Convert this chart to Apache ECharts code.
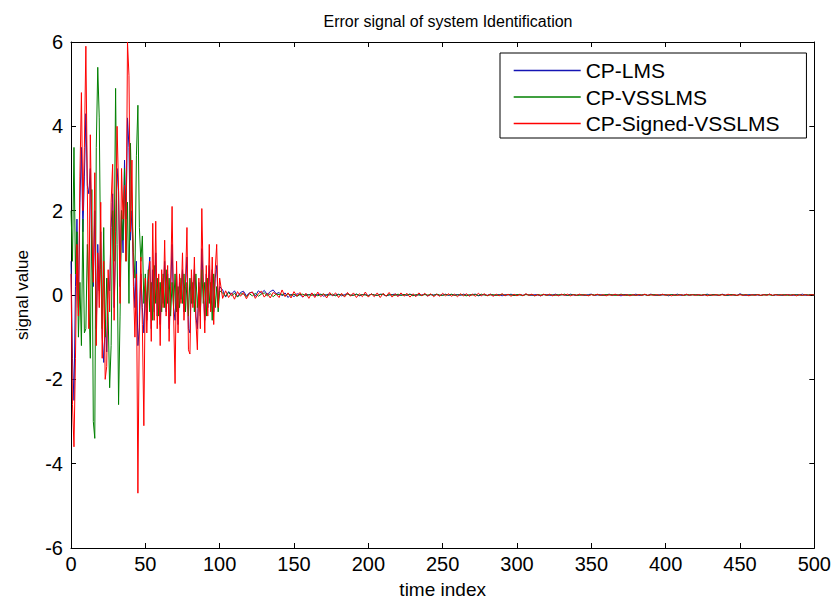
<!DOCTYPE html>
<html>
<head>
<meta charset="utf-8">
<script src="https://cdn.jsdelivr.net/npm/echarts@6/dist/echarts.min.js"></script>
<style>
html,body{margin:0;padding:0;background:#fff;}
#chart{width:834px;height:604px;}
</style>
</head>
<body>
<div id="chart"></div>
<script>
// ---- data ----
const seriesNames = ['CP-LMS', 'CP-VSSLMS', 'CP-Signed-VSSLMS'];
const xTicks = [0, 50, 100, 150, 200, 250, 300, 350, 400, 450, 500];
const yTicks = [-6, -4, -2, 0, 2, 4, 6];

// time index 0..100 (one value per index)
const lmsEarly = [
  0.8,-1.5,-2.5,0.2,1.8,-0.3,2.2,3.5,1.5,2.8,
  4.3,2.6,2.4,3.0,0.8,0.2,2.0,-0.8,1.2,0.1,
  1.5,-1.0,-1.6,-0.6,-1.35,0.4,0.1,1.6,2.4,-0.3,
  1.2,3.0,2.45,0.2,2.0,1.0,3.2,1.8,4.2,3.5,
  1.3,2.0,0.5,-0.3,0.8,-1.2,-0.78,0.5,-0.3,-0.9,
  0.2,-0.6,0.5,0.9,-0.8,0.6,-0.4,1.0,-0.5,0.3,
  -0.7,0.4,-0.2,0.8,-0.4,0.5,-0.8,0.1,1.2,-0.3,
  -0.6,0.5,-0.7,0.3,-0.1,0.6,-0.4,0.2,0.9,-0.8,
  -0.9,0.4,-0.2,0.6,-0.5,-0.8,0.3,-0.5,1.1,0.2,
  -0.6,0.5,-0.3,0.7,-0.2,0.6,-0.4,0.4,0.7,-0.2,
  0.2
];
const vssEarly = [
  2.0,0.8,3.5,0.5,1.5,-1.0,0.3,-1.2,1.8,-0.9,
  -0.8,1.2,0.0,-1.5,2.5,-3.0,-3.4,3.5,5.4,4.2,
  0.6,-0.8,1.6,-1.0,0.4,-0.5,-2.2,-1.2,2.0,0.8,
  4.9,1.2,-2.6,-0.5,2.0,1.3,3.0,0.8,2.2,-0.2,
  3.6,2.0,1.0,0.4,3.3,4.5,1.6,0.8,1.4,-0.2,
  0.5,-0.3,0.6,-0.4,0.3,-0.6,0.7,-0.2,0.4,-0.5,
  0.3,-0.4,0.5,-0.3,0.6,-0.2,0.4,-0.5,0.3,-0.3,
  0.5,-0.4,0.2,-0.3,0.4,-0.2,0.5,-0.4,0.3,-0.5,
  0.4,-0.2,0.3,-0.4,0.5,-0.3,0.2,-0.4,0.6,-0.2,
  0.3,-0.5,0.4,-0.2,0.3,-0.6,0.5,-0.3,0.2,-0.4,
  0.1
];
const signedEarly = [
  0.5,-2.6,-3.6,-1.5,1.2,-0.5,2.8,4.8,2.0,3.5,
  5.9,2.5,-0.8,3.8,1.5,0.3,2.9,-1.2,1.0,-0.3,
  2.2,-1.5,0.8,-2.0,-1.7,0.6,-0.4,2.2,3.1,-0.6,
  1.5,4.0,2.5,-0.2,3.0,1.8,2.6,0.8,6.0,5.2,
  1.5,3.2,0.2,-1.0,0.5,-4.7,-0.5,0.9,-0.7,-3.1,
  0.4,-0.9,0.3,0.8,-1.1,1.7,-0.6,1.75,-0.8,0.5,
  -1.2,0.6,-0.3,1.3,-0.5,0.7,-1.1,0.2,2.1,-0.4,
  -2.1,0.8,-0.9,0.5,-0.2,1.0,-0.6,0.3,1.6,-1.3,
  -1.4,0.6,-0.3,0.9,-0.6,-1.3,0.4,-0.8,2.05,0.3,
  -0.9,0.7,-0.5,1.2,-0.4,0.9,-0.7,0.6,1.2,-0.3,
  0.4
];

// time index 102..500, every second index
const lmsTail = [
  0.12,-0.05,0.08,0.02,0.10,-0.04,0.06,0.09,-0.02,0.05,
  0.07,-0.03,0.10,0.04,0.11,0.01,0.08,0.12,0.03,0.06,
  -0.02,0.05,-0.06,0.02,-0.04,0.03,0.01,-0.05,0.02,0.00,
  0.03,-0.02,0.01,0.02,-0.03,0.01,0.02,-0.01,0.00,0.02,
  -0.02,0.01,0.03,-0.01,0.00,0.02,-0.02,0.01,0.01,-0.01,
  0.02,0.00,-0.01,0.02,0.01,-0.02,0.00,0.01,0.02,-0.01,
  0.00,0.01,-0.01,0.02,0.00,-0.01,0.01,0.00,0.02,-0.02,
  0.01,0.00,0.01,-0.01,0.00,0.02,-0.01,0.01,0.00,0.01,
  -0.01,0.02,0.00,-0.01,0.01,0.02,-0.02,0.00,0.01,-0.01,
  0.02,-0.01,0.00,0.01,-0.02,0.01,0.00,0.02,-0.01,0.00,
  0.01,-0.01,0.02,0.00,-0.01,0.01,0.00,-0.02,0.01,0.01,
  -0.01,0.00,0.02,-0.01,0.01,0.00,-0.01,0.02,0.00,-0.01,
  0.01,0.00,-0.01,0.01,0.02,-0.01,0.00,0.01,-0.01,0.00,
  0.02,-0.01,0.01,0.00,-0.02,0.01,0.01,-0.01,0.00,0.02,
  -0.01,0.00,0.01,-0.01,0.02,0.00,-0.01,0.01,0.00,0.01,
  -0.02,0.01,0.00,0.02,-0.01,0.00,0.01,-0.01,0.01,0.00,
  0.01,-0.01,0.00,0.02,-0.01,0.01,0.00,-0.01,0.02,0.00,
  -0.01,0.01,0.00,-0.01,0.03,0.00,-0.01,0.01,0.00,0.01,
  0.00,-0.01,0.01,0.00,0.02,-0.01,0.00,0.01,-0.01,0.00,
  0.01,0.00,-0.01,0.01,0.00,0.02,-0.01,0.00,0.01,0.00
];
const vssTail = [
  0.05,-0.03,0.06,-0.02,0.04,-0.05,0.03,0.02,-0.04,0.03,
  -0.02,0.04,-0.03,0.02,0.05,-0.02,0.03,-0.04,0.02,0.01,
  0.02,-0.02,0.03,-0.01,0.02,-0.03,0.01,0.02,-0.02,0.01,
  -0.01,0.02,-0.02,0.01,0.02,-0.01,0.00,0.02,-0.02,0.01,
  0.01,-0.02,0.02,0.00,-0.01,0.02,-0.01,0.01,0.00,-0.02,
  0.02,0.00,-0.01,0.01,0.02,-0.02,0.01,0.00,-0.01,0.02,
  -0.01,0.01,0.00,0.02,-0.02,0.01,0.00,-0.01,0.01,0.00,
  0.01,-0.01,0.02,0.00,-0.01,0.01,0.00,0.02,-0.01,0.00,
  0.01,0.00,-0.02,0.01,0.00,0.01,-0.01,0.02,0.00,-0.01,
  0.00,0.01,-0.01,0.00,0.02,-0.01,0.01,0.00,-0.01,0.01,
  0.00,-0.01,0.01,0.00,0.01,-0.02,0.01,0.00,0.01,-0.01,
  0.01,0.00,-0.01,0.01,0.00,0.02,-0.01,0.00,0.01,0.00,
  -0.01,0.01,0.00,-0.01,0.01,0.00,0.01,-0.01,0.00,0.01,
  0.00,0.01,-0.01,0.00,0.02,0.00,-0.01,0.01,0.00,-0.01,
  0.01,0.00,0.01,-0.01,0.00,0.01,0.00,-0.01,0.01,0.00,
  0.00,0.01,-0.01,0.00,0.01,-0.01,0.00,0.01,0.00,0.01,
  -0.01,0.00,0.01,0.00,-0.01,0.01,0.00,0.00,0.01,-0.01,
  0.00,0.01,0.00,-0.01,0.01,0.00,0.01,-0.01,0.00,0.00,
  0.01,-0.01,0.00,0.01,0.00,-0.01,0.01,0.00,0.00,0.01,
  -0.01,0.00,0.01,0.00,0.00,-0.01,0.01,0.00,0.01,0.00
];
const signedTail = [
  -0.08,0.10,-0.06,0.05,-0.10,0.08,-0.03,0.06,-0.09,0.04,
  0.07,-0.08,0.03,0.09,-0.05,0.04,-0.07,0.06,0.02,-0.06,
  0.12,-0.04,0.05,-0.07,0.08,-0.03,0.06,-0.05,0.04,-0.08,
  0.05,-0.06,0.07,-0.04,0.03,-0.07,0.06,-0.02,0.05,-0.06,
  0.04,-0.05,0.06,-0.03,0.05,-0.06,0.03,-0.04,0.07,-0.05,
  0.03,-0.04,0.05,-0.06,0.04,-0.03,0.06,-0.05,0.03,-0.04,
  0.05,-0.03,0.04,-0.05,0.03,-0.04,0.05,-0.02,0.04,-0.03,
  0.03,-0.04,0.02,-0.03,0.04,-0.02,0.03,-0.03,0.02,-0.04,
  0.03,-0.02,0.03,-0.03,0.02,-0.03,0.04,-0.02,0.03,-0.02,
  0.02,-0.03,0.02,-0.02,0.03,-0.02,0.02,-0.03,0.02,-0.02,
  0.02,-0.02,0.03,-0.01,0.02,-0.02,0.01,-0.02,0.02,-0.01,
  0.02,-0.02,0.01,-0.02,0.02,-0.01,0.02,-0.02,0.01,-0.01,
  0.02,-0.01,0.01,-0.02,0.01,-0.01,0.02,-0.01,0.01,-0.02,
  0.01,-0.01,0.02,-0.01,0.01,-0.01,0.01,-0.02,0.01,-0.01,
  0.01,-0.01,0.02,-0.01,0.01,-0.01,0.01,-0.01,0.02,-0.01,
  0.01,-0.02,0.01,-0.01,0.01,-0.01,0.02,-0.01,0.01,-0.01,
  0.01,-0.01,0.01,-0.02,0.01,-0.01,0.01,-0.01,0.01,-0.01,
  0.02,-0.01,0.01,-0.01,0.01,-0.01,0.01,-0.02,0.01,-0.01,
  0.01,-0.01,0.01,-0.01,0.02,-0.01,0.01,-0.01,0.01,-0.01,
  0.01,-0.01,0.01,-0.02,0.01,-0.01,0.01,-0.01,0.01,0.00
];

const TAIL_START = 102, TAIL_STEP = 2;
function buildPairs(early, tail) {
  const out = early.map((v, i) => [i, v]);
  tail.forEach((v, k) => out.push([TAIL_START + k * TAIL_STEP, v]));
  return out;
}

const colors = ['#1414b4', '#008000', '#ff0000'];
const FONT = '"Liberation Sans", Arial, sans-serif';

const chart = echarts.init(document.getElementById('chart'), null, {renderer: 'svg'});
const axisLine = {show: true, onZero: false, lineStyle: {color: '#000', width: 1}};
const tick = {show: true, inside: true, length: 5, lineStyle: {color: '#000'}};

chart.setOption({
  animation: false,
  backgroundColor: '#fff',
  title: {
    text: 'Error signal of system Identification',
    left: 443, top: 8, textAlign: 'center',
    textStyle: {fontFamily: FONT, fontSize: 16, fontWeight: 'normal', color: '#000'}
  },
  grid: {left: 71, right: 18, top: 42, bottom: 52, containLabel: false},
  legend: {
    data: seriesNames.map((n, i) => ({
      name: n,
      itemStyle: {opacity: 0},
      lineStyle: {color: colors[i], width: 1.4, opacity: 1}
    })),
    orient: 'vertical',
    left: 500, top: 53,
    padding: [7, 27, 4, 13],
    itemGap: 5.5,
    itemWidth: 67, itemHeight: 22,
    backgroundColor: '#fff',
    borderColor: '#000', borderWidth: 1,
    textStyle: {fontFamily: FONT, fontSize: 21, color: '#000'}
  },
  xAxis: [{
    type: 'value', min: 0, max: 500, interval: 50,
    name: 'time index', nameLocation: 'middle', nameGap: 32,
    nameTextStyle: {fontFamily: FONT, fontSize: 19, color: '#000'},
    axisLine, axisTick: tick,
    axisLabel: {fontFamily: FONT, fontSize: 20, color: '#000', margin: 6,
      formatter: v => xTicks.includes(v) ? String(v) : ''},
    splitLine: {show: false}
  }, {
    type: 'value', position: 'top', min: 0, max: 500, interval: 50,
    axisLine, axisTick: tick, axisLabel: {show: false}, splitLine: {show: false}
  }],
  yAxis: [{
    type: 'value', min: -6, max: 6, interval: 2,
    name: 'signal value', nameLocation: 'middle', nameGap: 40, nameRotate: 90,
    nameTextStyle: {fontFamily: FONT, fontSize: 17, color: '#000'},
    axisLine, axisTick: tick,
    axisLabel: {fontFamily: FONT, fontSize: 20, color: '#000', margin: 8,
      formatter: v => yTicks.includes(v) ? String(v) : ''},
    splitLine: {show: false}
  }, {
    type: 'value', position: 'right', min: -6, max: 6, interval: 2,
    axisLine, axisTick: tick, axisLabel: {show: false}, splitLine: {show: false}
  }],
  series: [
    {name: seriesNames[0], type: 'line', data: buildPairs(lmsEarly, lmsTail)},
    {name: seriesNames[1], type: 'line', data: buildPairs(vssEarly, vssTail)},
    {name: seriesNames[2], type: 'line', data: buildPairs(signedEarly, signedTail)}
  ].map((s, i) => Object.assign(s, {
    showSymbol: false, symbol: 'none', color: colors[i],
    itemStyle: {color: colors[i]},
    lineStyle: {width: 1, color: colors[i]}, z: 2 + i
  }))
});
</script>
</body>
</html>
